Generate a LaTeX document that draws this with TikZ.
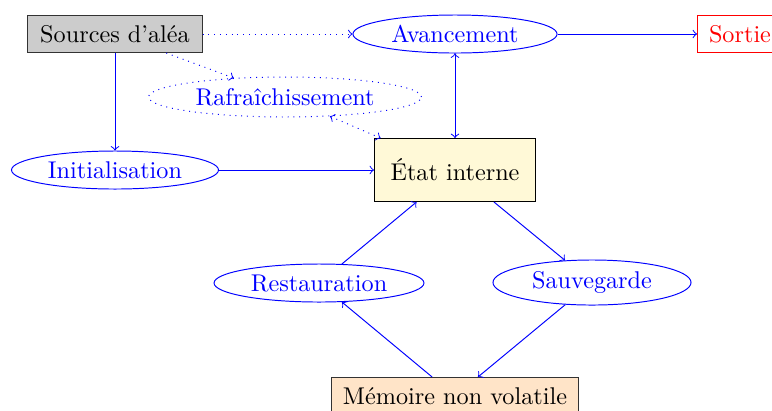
\documentclass[tikz,border=0pt]{standalone}
\usetikzlibrary{shapes.geometric}
\definecolor{etatfill}{RGB}{255,249,215}
\definecolor{memfill}{RGB}{255,228,200}
\definecolor{srcfill}{RGB}{204,204,204}
\begin{document}
\begin{tikzpicture}[x=0.413pt,y=-0.413pt,
  boxnode/.style={draw, rectangle, inner sep=0pt, font=\normalsize},
  ellnode/.style={draw=blue, text=blue, ellipse, inner sep=0pt},
  conn/.style={blue, ->},
  dconn/.style={blue, dotted, ->}]
\useasboundingbox (0,0) rectangle (772,410);
% nodes
\node[boxnode, fill=srcfill, draw=black!80, minimum width=71.9pt, minimum height=15.3pt] (src) at (115,34) {Sources d'aléa};
\node[ellnode, minimum width=84.3pt, minimum height=15.7pt] (av) at (455,34) {Avancement};
\node[boxnode, draw=red, text=red, minimum width=35.1pt, minimum height=15.3pt] (out) at (740,34) {Sortie};
\node[ellnode, dotted, minimum width=112.7pt, minimum height=16.5pt] (raf) at (285,97) {Rafraîchissement};
\node[ellnode, minimum width=85.5pt, minimum height=15.7pt] (init) at (115,170) {Initialisation};
\node[boxnode, fill=etatfill, minimum width=66.5pt, minimum height=26pt] (etat) at (455,170) {État interne};
\node[ellnode, minimum width=86.7pt, minimum height=15.7pt] (rest) at (319,283) {Restauration};
\node[ellnode, minimum width=81.8pt, minimum height=18.6pt] (sauv) at (592,282.5) {Sauvegarde};
\node[boxnode, fill=memfill, draw=black!80, minimum width=102.4pt, minimum height=15.3pt] (mem) at (455,396) {Mémoire non volatile};
% connectors
\draw[dconn] (src) -- (av);
\draw[dconn] (src) -- (raf);
\draw[blue, dotted, <->] (raf) -- (etat);
\draw[blue, <->] (av) -- (etat);
\draw[conn] (src) -- (init);
\draw[conn] (init) -- (etat);
\draw[conn] (av) -- (out);
\draw[conn] (etat) -- (sauv);
\draw[conn] (rest) -- (etat);
\draw[conn] (mem) -- (rest);
\draw[conn] (sauv) -- (mem);
\end{tikzpicture}
\end{document}
